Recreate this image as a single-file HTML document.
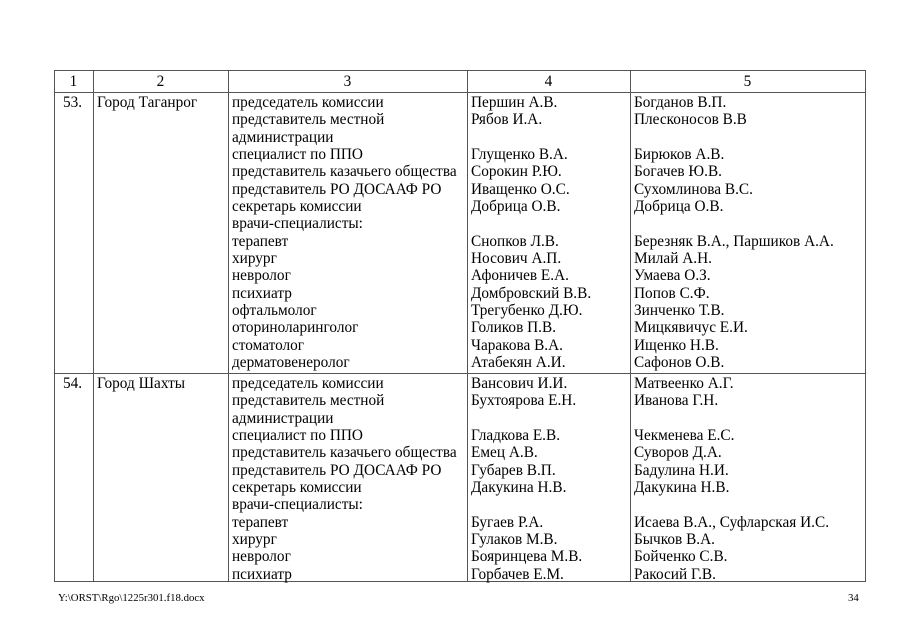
<!DOCTYPE html>
<html><head><meta charset="utf-8"><style>
body{margin:0;width:905px;height:640px;background:#fff;position:relative;font-family:"Liberation Serif","DejaVu Serif",serif;color:#000;overflow:hidden}
.v{position:absolute;width:1px;background:#555}
.h{position:absolute;height:1px;background:#555;left:54px;width:812px}
.t{position:absolute;font-size:15.3px;line-height:17.35px;white-space:pre}
.c{text-align:center}
</style></head><body>
<div class="h" style="top:70px"></div>
<div class="h" style="top:92px"></div>
<div class="h" style="top:373px"></div>
<div class="h" style="top:581px"></div>
<div class="v" style="left:54px;top:70px;height:512px"></div>
<div class="v" style="left:93px;top:70px;height:512px"></div>
<div class="v" style="left:228px;top:70px;height:512px"></div>
<div class="v" style="left:467px;top:70px;height:512px"></div>
<div class="v" style="left:630px;top:70px;height:512px"></div>
<div class="v" style="left:865px;top:70px;height:512px"></div>

<div class="t c" style="left:54px;width:39px;top:73px">1</div>
<div class="t c" style="left:93px;width:135px;top:73px">2</div>
<div class="t c" style="left:228px;width:239px;top:73px">3</div>
<div class="t c" style="left:467px;width:163px;top:73px">4</div>
<div class="t c" style="left:630px;width:235px;top:73px">5</div>

<div class="t" style="left:63px;top:94px">53.</div>
<div class="t" style="left:97px;top:94px">Город Таганрог</div>
<div class="t" style="left:232px;top:94px">председатель комиссии
представитель местной
администрации
специалист по ППО
представитель казачьего общества
представитель РО ДОСААФ РО
секретарь комиссии
врачи-специалисты:
терапевт
хирург
невролог
психиатр
офтальмолог
оториноларинголог
стоматолог
дерматовенеролог</div>
<div class="t" style="left:471px;top:94px">Першин А.В.
Рябов И.А.

Глущенко В.А.
Сорокин Р.Ю.
Иващенко О.С.
Добрица О.В.

Снопков Л.В.
Носович А.П.
Афоничев Е.А.
Домбровский В.В.
Трегубенко Д.Ю.
Голиков П.В.
Чаракова В.А.
Атабекян А.И.</div>
<div class="t" style="left:634px;top:94px">Богданов В.П.
Плесконосов В.В

Бирюков А.В.
Богачев Ю.В.
Сухомлинова В.С.
Добрица О.В.

Березняк В.А., Паршиков А.А.
Милай А.Н.
Умаева О.З.
Попов С.Ф.
Зинченко Т.В.
Мицкявичус Е.И.
Ищенко Н.В.
Сафонов О.В.</div>

<div class="t" style="left:63px;top:375px">54.</div>
<div class="t" style="left:97px;top:375px">Город Шахты</div>
<div class="t" style="left:232px;top:375px">председатель комиссии
представитель местной
администрации
специалист по ППО
представитель казачьего общества
представитель РО ДОСААФ РО
секретарь комиссии
врачи-специалисты:
терапевт
хирург
невролог
психиатр</div>
<div class="t" style="left:471px;top:375px">Вансович И.И.
Бухтоярова Е.Н.

Гладкова Е.В.
Емец А.В.
Губарев В.П.
Дакукина Н.В.

Бугаев Р.А.
Гулаков М.В.
Бояринцева М.В.
Горбачев Е.М.</div>
<div class="t" style="left:634px;top:375px">Матвеенко А.Г.
Иванова Г.Н.

Чекменева Е.С.
Суворов Д.А.
Бадулина Н.И.
Дакукина Н.В.

Исаева В.А., Суфларская И.С.
Бычков В.А.
Бойченко С.В.
Ракосий Г.В.</div>

<div class="t" style="left:58px;top:590px;font-size:10.8px">Y:\ORST\Rgo\1225r301.f18.docx</div>
<div class="t" style="left:848px;top:590px;font-size:10.8px">34</div>
</body></html>
